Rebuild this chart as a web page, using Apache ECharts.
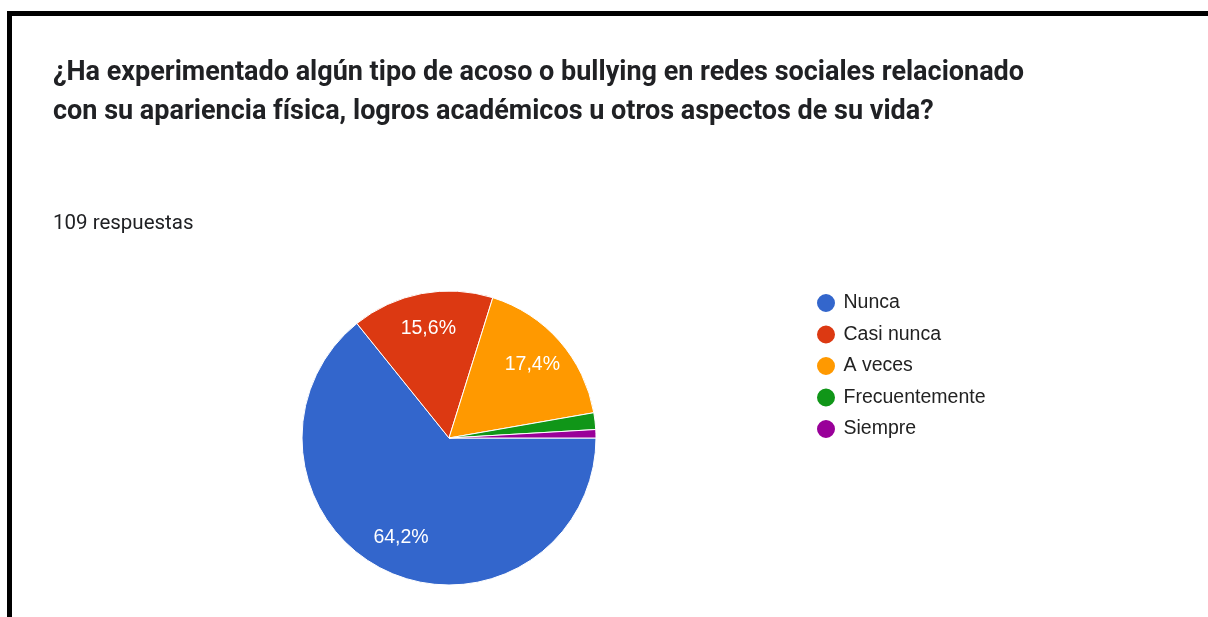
<!DOCTYPE html>
<html>
<head>
<meta charset="utf-8">
<script src="https://cdn.jsdelivr.net/npm/echarts@6/dist/echarts.min.js"></script>
<style>
  html, body { margin: 0; padding: 0; background: #fff; }
  #chart { width: 1208px; height: 617px; }
</style>
</head>
<body>
<div id="chart"></div>
<script>
// respuestas por categoría (109 en total)
const categories = ['Nunca', 'Casi nunca', 'A veces', 'Frecuentemente', 'Siempre'];
const counts = [70, 17, 19, 2, 1];
const colors = ['#3366cc', '#dc3912', '#ff9900', '#109618', '#990099'];
const titleText = '¿Ha experimentado algún tipo de acoso o bullying en redes sociales relacionado\ncon su apariencia física, logros académicos u otros aspectos de su vida?';
const subText = '109 respuestas';

let pieData = categories.map((name, i) => ({ name: name, value: counts[i] }));

let chart = echarts.init(document.getElementById('chart'));
let option = {
  animation: false,
  color: colors,
  title: [
    {
      text: titleText,
      left: 53,
      top: 54,
      padding: 0,
      textStyle: {
        fontFamily: 'Roboto',
        fontWeight: 'bold',
        fontSize: 27,
        lineHeight: 39,
        color: '#202124'
      }
    },
    {
      text: subText,
      left: 53,
      top: 212,
      padding: 0,
      textStyle: {
        fontFamily: 'Roboto',
        fontWeight: 'normal',
        fontSize: 20.5,
        lineHeight: 24,
        color: '#202124'
      }
    }
  ],
  graphic: [
    {
      type: 'rect',
      shape: { x: 9.5, y: 13.5, width: 1400, height: 800 },
      style: { fill: 'none', stroke: '#000', lineWidth: 5 },
      silent: true
    }
  ],
  legend: {
    orient: 'vertical',
    left: 815,
    top: 292,
    padding: 0,
    icon: 'circle',
    itemWidth: 21,
    itemHeight: 20,
    itemGap: 9.5,
    textStyle: {
      fontFamily: 'Arial',
      fontSize: 19.5,
      lineHeight: 20,
      color: '#222',
      padding: [0, 0, 0, 2]
    },
    data: categories
  },
  series: [
    {
      type: 'pie',
      center: [449, 438],
      radius: [0, 147],
      startAngle: 0,
      clockwise: true,
      percentPrecision: 1,
      itemStyle: { borderColor: '#fff', borderWidth: 1 },
      label: { show: false },
      labelLine: { show: false },
      data: pieData
    },
    {
      // capa transparente solo para colocar las etiquetas más hacia el borde
      type: 'pie',
      center: [449, 438],
      radius: [69, 147],
      startAngle: 0,
      clockwise: true,
      percentPrecision: 1,
      silent: true,
      itemStyle: { color: 'rgba(0,0,0,0)', borderWidth: 0 },
      label: {
        show: true,
        position: 'inside',
        fontFamily: 'Arial',
        fontSize: 19.5,
        color: '#fff',
        formatter: (p) => p.percent > 5 ? String(p.percent).replace('.', ',') + '%' : ''
      },
      labelLine: { show: false },
      data: pieData
    }
  ]
};
chart.setOption(option);
</script>
</body>
</html>
